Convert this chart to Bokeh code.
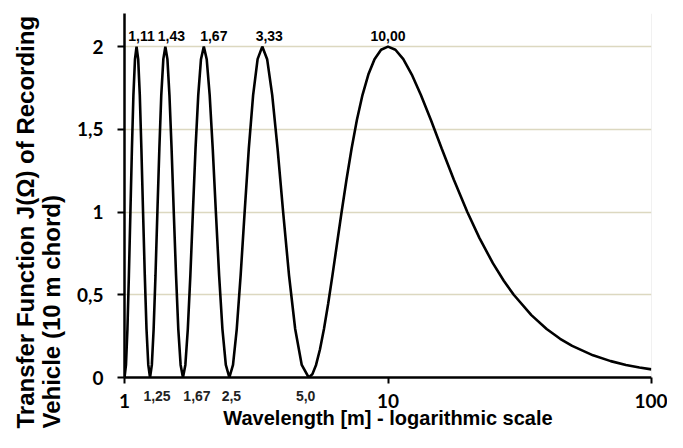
from bokeh.plotting import figure
from bokeh.models import (ColumnDataSource, LabelSet, Span, FixedTicker, Range1d, LogAxis, Title)
from bokeh.core.properties import value
from bokeh.embed import file_html
from bokeh.resources import INLINE

# ---- data ----
wavelength = [
    1.000, 1.013, 1.026, 1.039, 1.053, 1.067, 1.081, 1.096, 1.111, 1.127, 1.143, 1.159, 1.176, 1.194, 1.212, 1.231,
    1.250, 1.270, 1.290, 1.311, 1.333, 1.356, 1.379, 1.404, 1.429, 1.455, 1.481, 1.509, 1.538, 1.569, 1.600, 1.633,
    1.667, 1.702, 1.739, 1.778, 1.818, 1.860, 1.905, 1.951, 2.000, 2.051, 2.105, 2.162, 2.222, 2.286, 2.353, 2.424,
    2.500, 2.581, 2.667, 2.759, 2.857, 2.963, 3.077, 3.200, 3.333, 3.478, 3.636, 3.810, 4.000, 4.211, 4.444, 4.706,
    5.000, 5.161, 5.333, 5.517, 5.714, 5.926, 6.154, 6.400, 6.667, 6.957, 7.273, 7.619, 8.000, 8.421, 8.889, 9.412,
    10.00, 10.67, 11.43, 12.31, 13.33, 14.55, 16.00, 17.78, 20.00, 22.22, 25.00, 27.50, 30.00, 35.00, 40.00, 45.00,
    50.00, 60.00, 70.00, 80.00, 90.00, 100.0,
]
transfer = [
    0.000, 0.076, 0.293, 0.617, 1.000, 1.383, 1.707, 1.924, 2.000, 1.924, 1.707, 1.383, 1.000, 0.617, 0.293, 0.076,
    0.000, 0.076, 0.293, 0.617, 1.000, 1.383, 1.707, 1.924, 2.000, 1.924, 1.707, 1.383, 1.000, 0.617, 0.293, 0.076,
    0.000, 0.076, 0.293, 0.617, 1.000, 1.383, 1.707, 1.924, 2.000, 1.924, 1.707, 1.383, 1.000, 0.617, 0.293, 0.076,
    0.000, 0.076, 0.293, 0.617, 1.000, 1.383, 1.707, 1.924, 2.000, 1.924, 1.707, 1.383, 1.000, 0.617, 0.293, 0.076,
    0.000, 0.019, 0.076, 0.169, 0.293, 0.444, 0.617, 0.805, 1.000, 1.195, 1.383, 1.556, 1.707, 1.831, 1.924, 1.981,
    2.000, 1.981, 1.924, 1.831, 1.707, 1.556, 1.383, 1.195, 1.000, 0.844, 0.691, 0.585, 0.500, 0.377, 0.293, 0.234,
    0.191, 0.134, 0.099, 0.076, 0.060, 0.049,
]

peak_wavelength = [1.111, 1.429, 2.0, 3.333, 10.0]
peak_value = [2.0, 2.0, 2.0, 2.0, 2.0]
peak_labels = ["1,11", "1,43", "1,67", "3,33", "10,00"]

zero_wavelength = [1.25, 1.667, 2.5, 5.0]
zero_labels = ["1,25", "1,67", "2,5", "5,0"]

x_ticks = [1, 10, 100]
x_tick_labels = ["1", "10", "100"]
y_ticks = [0, 0.5, 1, 1.5, 2]
y_tick_labels = ["0", "0,5", "1", "1,5", "2"]

x_title = "Wavelength [m] - logarithmic scale"
y_title = "Transfer Function J(\u03a9) of Recording\nVehicle (10 m chord)"

# ---- figure ----
W, H = 667, 432
FONT = "Liberation Sans"
p = figure(width=W, height=H, x_axis_type="log",
           x_range=Range1d(1, 100), y_range=Range1d(0, 2.2),
           output_backend="svg", toolbar_location=None,
           min_border_left=124, min_border_right=16,
           min_border_top=13, min_border_bottom=55)
p.title.visible = False
p.outline_line_color = None
p.background_fill_color = "white"
p.border_fill_color = "white"

# main axes: lines and tick marks
for ax in (p.xaxis[0], p.yaxis[0]):
    ax.axis_line_color = "black"
    ax.axis_line_width = 2.5
    ax.major_tick_line_color = "black"
    ax.major_tick_line_width = 2
    ax.minor_tick_line_color = None
    ax.major_tick_in = 0
    ax.major_label_text_font = "Lato"
    ax.major_label_text_font_style = "bold"
    ax.major_label_text_font_size = "19px"
    ax.major_label_text_color = "black"

p.xaxis.ticker = FixedTicker(ticks=x_ticks)
p.xaxis.major_label_overrides = {t: "" for t in x_ticks}
p.xaxis.major_label_text_font_size = "0px"
p.xaxis.major_tick_out = 6
p.xaxis.major_label_standoff = 0

p.yaxis.ticker = FixedTicker(ticks=y_ticks)
p.yaxis.major_label_overrides = dict(zip(y_ticks, y_tick_labels))
p.yaxis.major_tick_out = 7
p.yaxis.major_label_standoff = 14

# label-only axis for the zero-crossing labels
zero_dx = [7, 14, 2, -3]   # pixel nudges of the labels relative to the zeros
px_per_decade = 263.5
zero_pos = [w * 10 ** (d / px_per_decade) for w, d in zip(zero_wavelength, zero_dx)]
zax = LogAxis(ticker=FixedTicker(ticks=zero_pos),
              major_label_overrides=dict(zip(zero_pos, zero_labels)),
              axis_line_color=None, major_tick_line_color=None, minor_tick_line_color=None,
              major_tick_out=0, major_tick_in=0, major_label_standoff=7,
              major_label_text_font=FONT, major_label_text_font_style="bold",
              major_label_text_font_size="14px", major_label_text_color="#222222")
p.add_layout(zax, "below")

# label-only axis for the decade labels
lax = LogAxis(ticker=FixedTicker(ticks=x_ticks),
              major_label_overrides=dict(zip(x_ticks, x_tick_labels)),
              axis_line_color=None, major_tick_line_color=None, minor_tick_line_color=None,
              major_tick_out=0, major_tick_in=0, major_label_standoff=-10,
              major_label_text_font="Lato", major_label_text_font_style="bold",
              major_label_text_font_size="19px", major_label_text_color="black")
p.add_layout(lax, "below")

p.add_layout(Title(text=x_title, align="center", vertical_align="top", offset=26, standoff=-8,
                   text_font=FONT, text_font_style="bold", text_font_size="20px",
                   text_color="black"), "below")

p.add_layout(Title(text=y_title, align="left", offset=-51, standoff=19,
                   text_font=FONT, text_font_style="bold", text_font_size="24px",
                   text_line_height=0.96, text_color="black"), "left")

p.xgrid.visible = False
p.ygrid.grid_line_color = "#dcd8c0"
p.ygrid.grid_line_width = 1.5

p.add_layout(Span(location=100, dimension="height", line_color="#e4e4e4", line_width=1))

p.line(wavelength, transfer, line_color="black", line_width=2.6)

peak_src = ColumnDataSource(dict(x=peak_wavelength, y=[v + 0.066 for v in peak_value],
                                 text=peak_labels, dx=[5, 6, 10, 7, 0]))
p.add_layout(LabelSet(x="x", y="y", text="text", x_offset="dx", source=peak_src,
                      text_align="center", text_baseline="middle",
                      text_font=value(FONT), text_font_style="bold",
                      text_font_size="14px", text_color="black"))

open("out.html", "w").write(file_html(p, INLINE))
